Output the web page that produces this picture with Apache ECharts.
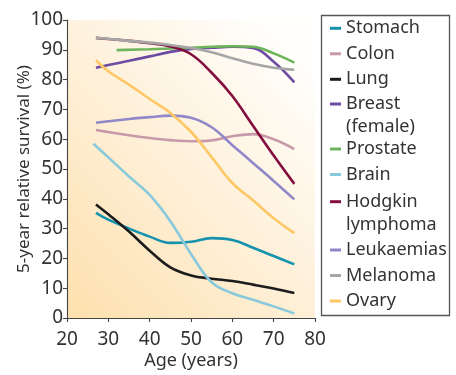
<!DOCTYPE html>
<html><head><meta charset="utf-8">
<script src="https://cdn.jsdelivr.net/npm/echarts@6/dist/echarts.min.js"></script>
<style>html,body{margin:0;padding:0;background:#fff}#c{width:456px;height:375px}</style>
</head><body><div id="c"></div>
<script>
const ages = [27, 30, 35, 40, 45, 50, 55, 60, 65, 70, 75];
const prostateAges = [32, 40, 50, 55, 60, 65, 70, 75];
const brainAges = [26.4, 30, 35, 40, 45, 50, 55, 60, 65, 70, 75];

const stomach   = [35.3, 33.0, 30.0, 27.3, 25.2, 25.6, 26.8, 26.2, 23.6, 20.8, 18.0];
const colon     = [63.1, 62.4, 61.3, 60.4, 59.7, 59.3, 59.6, 61.0, 61.7, 60.0, 56.7];
const lung      = [38.1, 34.8, 29.0, 22.6, 17.0, 14.3, 13.2, 12.4, 11.2, 9.9, 8.4];
const breast    = [84.0, 84.9, 86.3, 87.8, 89.3, 90.3, 90.7, 91.0, 90.6, 86.0, 79.1];
const prostate  = [89.9, 90.2, 90.7, 91.0, 91.2, 91.0, 88.8, 85.7];
const brain     = [58.5, 53.9, 47.5, 41.3, 32.5, 21.5, 12.0, 8.3, 6.1, 3.9, 1.5];
const hodgkin   = [94.0, 93.6, 93.0, 92.2, 91.1, 88.5, 82.3, 74.5, 64.5, 54.5, 45.0];
const leukaemia = [65.5, 66.0, 66.8, 67.4, 67.9, 67.2, 64.0, 58.0, 52.0, 46.0, 39.8];
const melanoma  = [94.0, 93.7, 93.0, 92.4, 91.6, 90.6, 89.2, 87.2, 85.3, 84.0, 83.3];
const ovary     = [86.5, 82.8, 78.3, 73.5, 68.8, 62.5, 54.0, 45.3, 39.5, 33.5, 28.5];

const seriesNames = ['Stomach', 'Colon', 'Lung', 'Breast (female)', 'Prostate', 'Brain',
  'Hodgkin lymphoma', 'Leukaemias', 'Melanoma', 'Ovary'];
const seriesColors = ['#1593ad', '#c89aa9', '#1c1c1c', '#6d4ba3', '#6cb35a', '#88c9dc',
  '#830d3e', '#9188c9', '#a6a6a6', '#fec765'];
const seriesX = [ages, ages, ages, ages, prostateAges, brainAges, ages, ages, ages, ages];
const seriesY = [stomach, colon, lung, breast, prostate, brain, hodgkin, leukaemia, melanoma, ovary];

const xMin = 20, xMax = 80, xStep = 10;
const yMin = 0, yMax = 100, yStep = 10;

const FONT = 'Noto Sans';
const chart = echarts.init(document.getElementById('c'), null, {renderer: 'canvas'});

const legendFormatter = function (name) {
  if (name === 'Breast (female)') return '\nBreast\n(female)';
  if (name === 'Hodgkin lymphoma') return '\nHodgkin\nlymphoma';
  return name;
};
function legendGroup(names, top) {
  return {
    data: names,
    orient: 'vertical',
    left: 330,
    top: top,
    padding: 0,
    itemWidth: 11,
    itemHeight: 3,
    itemGap: 2.5,
    icon: 'rect',
    formatter: legendFormatter,
    selectedMode: false,
    textStyle: {fontFamily: FONT, fontSize: 18, lineHeight: 23, color: '#333'}
  };
}

const series = seriesNames.map(function (name, i) {
  return {
    name: name,
    type: 'line',
    smooth: 0.4,
    showSymbol: false,
    symbol: 'none',
    color: seriesColors[i],
    lineStyle: {width: 2.6, color: seriesColors[i]},
    data: seriesX[i].map(function (a, j) { return [a, seriesY[i][j]]; })
  };
});

chart.setOption({
  animation: false,
  grid: {
    left: 67, top: 20, width: 248, height: 303,
    show: true, borderWidth: 0,
    backgroundColor: new echarts.graphic.LinearGradient(0, 1, 1, 0.2, [
      {offset: 0, color: '#fde0ad'},
      {offset: 0.5, color: '#feefd6'},
      {offset: 1, color: '#fffefb'}
    ])
  },
  xAxis: {
    type: 'value', min: xMin, max: xMax, interval: xStep,
    name: 'Age (years)', nameLocation: 'middle', nameGap: 34, nameMoveOverlap: false,
    nameTextStyle: {fontFamily: FONT, fontSize: 18, color: '#333'},
    axisLine: {show: true, lineStyle: {color: '#444', width: 1.1}},
    axisTick: {show: true, length: 4, lineStyle: {color: '#444', width: 1.1}},
    axisLabel: {fontFamily: FONT, fontSize: 19, color: '#333', margin: 12},
    splitLine: {show: false}
  },
  yAxis: {
    type: 'value', min: yMin, max: yMax, interval: yStep,
    name: '5-year relative survival (%)', nameLocation: 'middle', nameGap: 34, nameMoveOverlap: false,
    nameTextStyle: {fontFamily: FONT, fontSize: 17, color: '#333'},
    axisLine: {show: true, lineStyle: {color: '#444', width: 1.1}},
    axisTick: {show: true, length: 4, lineStyle: {color: '#444', width: 1.1}},
    axisLabel: {fontFamily: FONT, fontSize: 19, color: '#333', margin: 4},
    splitLine: {show: false}
  },
  legend: [
    legendGroup(['Stomach', 'Colon', 'Lung'], 16.8),
    legendGroup(['Breast (female)'], 69.5),
    legendGroup(['Prostate', 'Brain'], 137.5),
    legendGroup(['Hodgkin lymphoma'], 167.2),
    legendGroup(['Leukaemias', 'Melanoma', 'Ovary'], 238.5)
  ],
  graphic: [{
    type: 'rect', silent: true,
    shape: {x: 321.5, y: 15.5, width: 128, height: 300},
    style: {fill: 'none', stroke: '#555', lineWidth: 1.3}
  }],
  series: series
});
</script></body></html>
